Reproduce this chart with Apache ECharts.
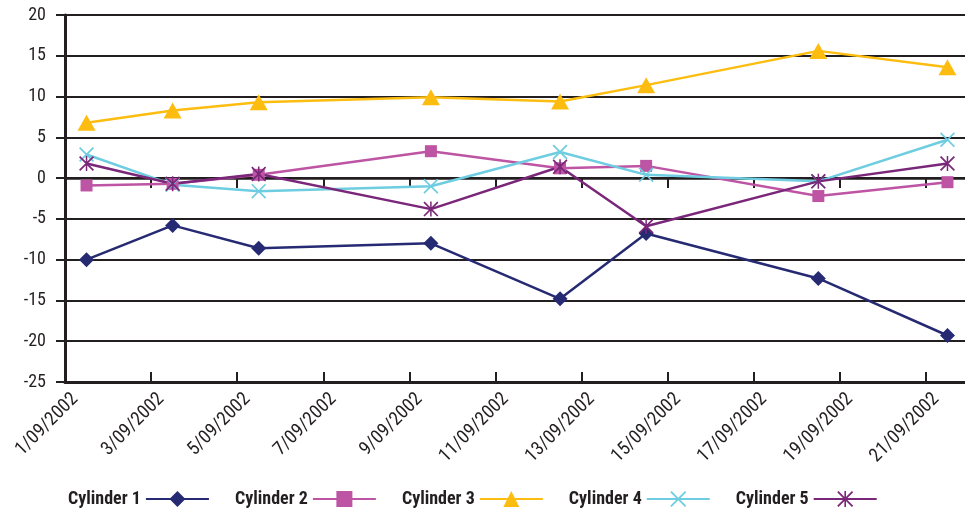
<!DOCTYPE html>
<html>
<head>
<meta charset="utf-8">
<script src="https://cdn.jsdelivr.net/npm/echarts@6/dist/echarts.min.js"></script>
<style>
  html, body { margin: 0; padding: 0; background: #fff; }
  #chart { width: 965px; height: 517px; }
</style>
</head>
<body>
<div id="chart"></div>
<script>
// Day offsets from 1/09/2002 (point placed mid-day)
const dayOffsets = [0, 2, 4, 8, 11, 13, 17, 20];
const seriesNames = ['Cylinder 1', 'Cylinder 2', 'Cylinder 3', 'Cylinder 4', 'Cylinder 5'];
const cylinder1 = [-10.0, -5.8, -8.6, -8.0, -14.8, -6.8, -12.3, -19.3];
const cylinder2 = [-0.9, -0.7, 0.4, 3.3, 1.2, 1.5, -2.2, -0.5];
const cylinder3 = [6.8, 8.3, 9.3, 9.9, 9.4, 11.4, 15.6, 13.6];
const cylinder4 = [2.9, -0.8, -1.6, -1.0, 3.2, 0.4, -0.4, 4.7];
const cylinder5 = [1.8, -0.7, 0.5, -3.8, 1.4, -5.9, -0.4, 1.8];
const yTicks = [-25, -20, -15, -10, -5, 0, 5, 10, 15, 20];

const FONT = '"Roboto Condensed", "Liberation Sans Narrow", sans-serif';
const INK = '#231f20';

// Stroke-like marker shapes built from thin filled bars
const crossPath = 'path://M0,1.6L1.6,0L20,18.4L18.4,20Z M18.4,0L20,1.6L1.6,20L0,18.4Z';
const starPath = 'path://M0,1.6L1.6,0L20,18.4L18.4,20Z M18.4,0L20,1.6L1.6,20L0,18.4Z M9,0L11,0L11,20L9,20Z';

const styles = [
  { color: '#262a73', symbol: 'diamond', size: 15 },
  { color: '#bd54a4', symbol: 'rect', size: 12 },
  { color: '#fdbd10', symbol: 'triangle', size: [18, 16] },
  { color: '#6ecde0', symbol: crossPath, size: 15 },
  { color: '#7a2679', symbol: starPath, size: 15 }
];
const values = [cylinder1, cylinder2, cylinder3, cylinder4, cylinder5];

function dateLabel(v) {
  if (v > 20 || v % 2 !== 0) return '';
  return (v + 1) + '/09/2002';
}

const chart = echarts.init(document.getElementById('chart'), null, { renderer: 'canvas' });

chart.setOption({
  animation: false,
  backgroundColor: '#ffffff',
  grid: { left: 65, right: -4, top: 15, bottom: 135, containLabel: false, outerBoundsMode: 'none' },
  legend: {
    left: 68,
    top: 490,
    align: 'right',
    itemWidth: 63,
    itemHeight: 20,
    itemGap: 25,
    padding: 0,
    textStyle: { fontFamily: FONT, fontWeight: 'bold', fontSize: 18, color: INK },
    data: seriesNames
  },
  xAxis: [
    {
      type: 'value',
      min: 0, max: 21, interval: 2,
      position: 'bottom',
      axisLine: { onZero: false, lineStyle: { color: INK, width: 3 } },
      axisTick: { inside: true, length: 10, lineStyle: { color: INK, width: 2 } },
      splitLine: { show: false },
      axisLabel: {
        rotate: 45, margin: 4, padding: [5, 0, 0, 0], fontFamily: FONT, fontSize: 19, color: INK,
        verticalAlign: 'top', showMaxLabel: false, formatter: dateLabel
      }
    },
    {
      type: 'value',
      min: 0, max: 21, interval: 2,
      position: 'bottom',
      axisLine: { onZero: true, lineStyle: { color: INK, width: 2.5 } },
      axisTick: { inside: false, length: 10, lineStyle: { color: INK, width: 2 } },
      splitLine: { show: false },
      axisLabel: { show: false }
    }
  ],
  yAxis: {
    type: 'value',
    min: yTicks[0], max: yTicks[yTicks.length - 1], interval: 5,
    axisLine: { show: true, lineStyle: { color: INK, width: 3 } },
    axisTick: { show: true, length: 9, lineStyle: { color: INK, width: 2 } },
    splitLine: { show: true, lineStyle: { color: INK, width: 2 } },
    axisLabel: { margin: 19, fontFamily: FONT, fontSize: 18, color: INK }
  },
  series: seriesNames.map((name, i) => ({
    name: name,
    type: 'line',
    xAxisIndex: 0,
    data: dayOffsets.map((d, j) => [d + 0.5, values[i][j]]),
    symbol: styles[i].symbol,
    symbolSize: styles[i].size,
    showAllSymbol: true,
    lineStyle: { color: styles[i].color, width: 2.5 },
    itemStyle: { color: styles[i].color },
    emphasis: { disabled: true }
  }))
});
</script>
</body>
</html>
